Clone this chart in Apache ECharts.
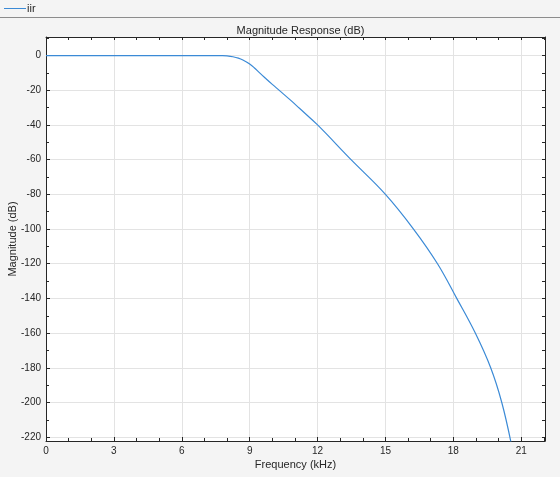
<!DOCTYPE html>
<html>
<head>
<meta charset="utf-8">
<script src="https://cdn.jsdelivr.net/npm/echarts@6/dist/echarts.min.js"></script>
<style>
html,body{margin:0;padding:0;background:#f4f4f4;}
#chart{width:560px;height:477px;}
</style>
</head>
<body>
<div id="chart"></div>
<script>
// Data
const seriesName = 'iir';
const freqKHz = [0, 2, 4, 6, 7, 7.5, 7.8, 8.0, 8.26, 8.5, 8.7, 9.0, 9.2, 9.44, 9.7, 10.0, 10.32, 10.83, 11.2, 12.0, 13.48, 15.0, 16.24, 17.3, 18.15, 18.97, 19.65, 20.14, 20.57];
const magDb   = [0, 0, 0, 0, 0, -0.02, -0.05, -0.2, -0.7, -1.5, -2.6, -4.9, -7.0, -10.0, -13.1, -16.6, -20.2, -26.0, -30.4, -40, -60, -80, -100, -120, -140, -160, -180, -200, -224.5];
const xMajorTicks = [0, 3, 6, 9, 12, 15, 18, 21];
const xMinorTicks = [0,1,2,3,4,5,6,7,8,9,10,11,12,13,14,15,16,17,18,19,20,21,22];
const yMajorTicks = [0, -20, -40, -60, -80, -100, -120, -140, -160, -180, -200, -220];
const yMinorTicks = [10, 0, -10, -20, -30, -40, -50, -60, -70, -80, -90, -100, -110, -120, -130, -140, -150, -160, -170, -180, -190, -200, -210, -220];
const xMin = 0, xMax = 22.05;
const yMin = -222.2, yMax = 10.7;
const titleText = 'Magnitude Response (dB)';
const xName = 'Frequency (kHz)';
const yName = 'Magnitude (dB)';

const txt = '#262626';
const lineColor = '#3b8ad6';
const font = "'Liberation Sans', Arial, Helvetica, sans-serif";
const chart = echarts.init(document.getElementById('chart'), null, {renderer: 'canvas'});

function baseAxis(extra) {
  return Object.assign({
    type: 'value',
    gridIndex: 0,
    axisLine: {show: false, onZero: false},
    axisTick: {show: false},
    axisLabel: {show: false},
    splitLine: {show: false}
  }, extra);
}

const data = freqKHz.map((f, i) => [f, magDb[i]]);

chart.setOption({
  animation: false,
  backgroundColor: '#f4f4f4',
  textStyle: {fontFamily: font},
  title: {
    text: titleText,
    left: 295.5,
    top: 20,
    textAlign: 'center',
    textStyle: {fontSize: 11, fontWeight: 'normal', color: txt, fontFamily: font}
  },
  legend: {
    left: 4,
    top: 3,
    padding: 0,
    icon: 'rect',
    itemWidth: 22,
    itemHeight: 1,
    itemGap: 4,
    textStyle: {fontSize: 11, color: txt, fontFamily: font, padding: [0,0,0,-4]},
    data: [{name: seriesName, itemStyle: {color: lineColor}}]
  },
  graphic: [{
    type: 'line',
    shape: {x1: 0, y1: 17.5, x2: 560, y2: 17.5},
    style: {stroke: '#8c8c8c', lineWidth: 1}
  }],
  grid: {
    left: 46, top: 37, width: 499, height: 404,
    show: true, backgroundColor: '#ffffff', borderWidth: 0,
    containLabel: false,
    outerBoundsMode: 'none'
  },
  xAxis: [
    baseAxis({
      position: 'bottom', min: xMin, max: xMax,
      name: xName, nameLocation: 'middle', nameGap: 18, nameMoveOverlap: false,
      nameTextStyle: {fontSize: 11, color: txt, fontFamily: font},
      axisLine: {show: true, onZero: false, lineStyle: {color: txt, width: 1}},
      axisTick: {show: true, inside: true, length: 4, customValues: xMajorTicks, lineStyle: {color: txt}},
      axisLabel: {show: true, customValues: xMajorTicks, fontSize: 10, color: txt, margin: 5, fontFamily: font},
      splitLine: {show: true, lineStyle: {color: '#e3e3e3', width: 1}}
    }),
    baseAxis({
      position: 'bottom', min: xMin, max: xMax,
      axisTick: {show: true, inside: true, length: 3, customValues: xMinorTicks, lineStyle: {color: txt}}
    }),
    baseAxis({
      position: 'top', min: xMin, max: xMax,
      axisLine: {show: true, onZero: false, lineStyle: {color: txt, width: 1}},
      axisTick: {show: true, inside: true, length: 3, customValues: xMinorTicks, lineStyle: {color: txt}}
    })
  ],
  yAxis: [
    baseAxis({
      position: 'left', min: yMin, max: yMax,
      name: yName, nameLocation: 'middle', nameGap: 28, nameMoveOverlap: false,
      nameTextStyle: {fontSize: 11, color: txt, fontFamily: font},
      axisLine: {show: true, onZero: false, lineStyle: {color: txt, width: 1}},
      axisTick: {show: true, inside: true, length: 4, customValues: yMajorTicks, lineStyle: {color: txt}},
      axisLabel: {show: true, customValues: yMajorTicks, fontSize: 10, color: txt, margin: 5, fontFamily: font},
      splitLine: {show: true, lineStyle: {color: '#e3e3e3', width: 1}}
    }),
    baseAxis({
      position: 'left', min: yMin, max: yMax,
      axisTick: {show: true, inside: true, length: 3, customValues: yMinorTicks, lineStyle: {color: txt}}
    }),
    baseAxis({
      position: 'right', min: yMin, max: yMax,
      axisLine: {show: true, onZero: false, lineStyle: {color: txt, width: 1}},
      axisTick: {show: true, inside: true, length: 3, customValues: yMinorTicks, lineStyle: {color: txt}}
    })
  ],
  series: [{
    name: seriesName,
    type: 'line',
    xAxisIndex: 0,
    yAxisIndex: 0,
    data: data,
    showSymbol: false,
    symbol: 'none',
    smooth: 0.4,
    clip: true,
    color: lineColor,
    itemStyle: {color: lineColor},
    lineStyle: {color: lineColor, width: 1.2}
  }]
});
</script>
</body>
</html>
